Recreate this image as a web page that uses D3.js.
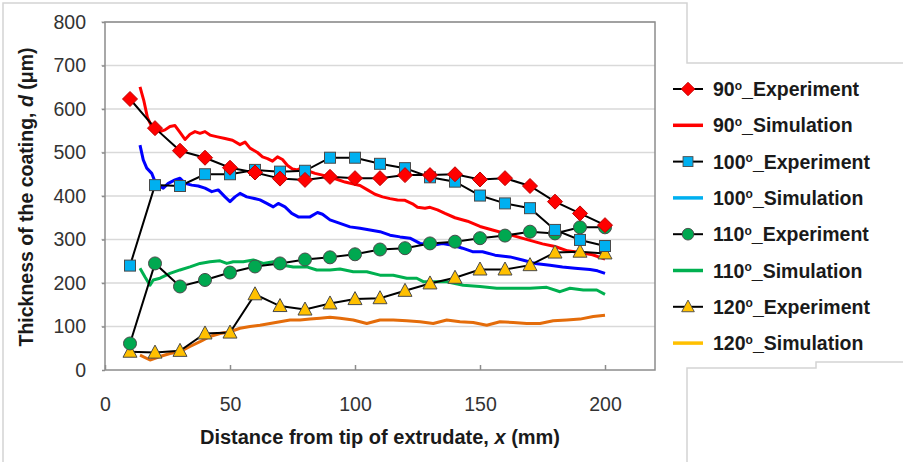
<!DOCTYPE html>
<html>
<head>
<meta charset="utf-8">
<script src="https://cdn.jsdelivr.net/npm/d3@7"></script>
<style>
  body { margin: 0; background: #fff; }
  svg { display: block; font-family: "Liberation Sans", Arial, sans-serif; }
</style>
</head>
<body>
<svg id="chart" width="903" height="462"></svg>
<script>
// experiment positions (mm)
var expX = [10, 20, 30, 40, 50, 60, 70, 80, 90, 100, 110, 120, 130, 140, 150, 160, 170, 180, 190, 200];

// experiment thickness (um)
var exp90  = [623, 556, 504, 488, 465, 454, 440, 437, 444, 441, 441, 448, 448, 450, 438, 441, 423, 387, 360, 333];
var exp100 = [240, 425, 423, 450, 450, 460, 456, 458, 488, 488, 474, 464, 443, 433, 401, 383, 372, 322, 299, 285];
var exp110 = [61, 245, 192, 207, 224, 238, 245, 254, 259, 266, 277, 280, 291, 295, 303, 309, 318, 314, 328, 328];
var exp120 = [42, 40, 44, 84, 86, 174, 147, 139, 153, 163, 165, 182, 199, 212, 231, 231, 241, 270, 272, 268];

// simulation curves, [x, thickness]
var sim90 = [[14,651],[15.5,620],[17,580],[18.5,562],[20,556],[22,548],[24,552],[26,560],[28,562],[30,546],
  [32,530],[34,542],[36,548],[38,544],[40,548],[42,540],[45,536],[48,532],[51,528],[54,518],[56,524],
  [58,510],[61,500],[63,490],[65,486],[67,480],[69,490],[71,484],[73,470],[75,462],[77,460],[79,466],
  [81,458],[84,452],[87,448],[90,444],[93,438],[96,432],[99,428],[102,424],[105,414],[108,404],[111,398],
  [114,394],[117,391],[120,390],[123,382],[125,374],[128,372],[130,374],[133,368],[136,360],[140,350],
  [145,342],[150,330],[155,322],[160,314],[165,306],[170,298],[175,290],[180,284],[185,274],[190,270],
  [195,265],[200,255]];
var sim100 = [[14,517],[15.3,483],[16.7,464],[18.7,452],[20,433],[21.3,425],[23.3,418],[25.3,429],[28,437],
  [30,441],[32,429],[34.7,425],[37.3,423],[40,418],[42.7,410],[45.3,414],[48,398],[50,387],[52,398],
  [54,406],[56.7,398],[59.3,395],[62,391],[64.7,383],[67.3,375],[69.3,383],[72,375],[74.7,360],[77.3,352],
  [80,352],[82,352],[85,362],[87,358],[90,345],[94,337],[98,329],[102,326],[106,322],[110,318],[114,310],
  [118,306],[122,303],[126,291],[131,287],[135,291],[139,287],[143,280],[147,272],[151,272],[156,264],
  [162,260],[167,253],[172,245],[178,241],[183,237],[188,234],[194,231],[197,228],[200,222]];
var sim110 = [[14,234],[16,214],[18,195],[19.3,207],[22,211],[26,222],[30,230],[34,237],[38,245],[42,249],
  [46,251],[48.7,245],[51.3,249],[55.3,249],[59.3,253],[63.3,245],[67.3,249],[71.3,241],[75.3,237],
  [80.7,237],[84.7,230],[90,230],[94,232],[99.3,226],[104.7,226],[110,218],[115.3,218],[120.7,211],
  [124.7,211],[127.3,203],[131.3,203],[136.7,203],[143.3,195],[150,192],[156.7,188],[163.3,188],[170,188],
  [176.7,190],[182,180],[186,188],[191.3,184],[196.7,184],[200,174]];
var sim120 = [[14,34],[18,23],[22,31],[26,38],[30,42],[34,54],[38,65],[42,77],[46,84],[50,88],[54,96],
  [58,100],[62,103],[66,107],[70,111],[74,115],[78,115],[82,117],[86,119],[90,121],[94,119],[99.3,115],
  [104.7,107],[110,115],[115.3,115],[120.7,113],[126,111],[131.3,107],[136.7,115],[142,111],[147.3,109],
  [152.7,103],[158,111],[163.3,109],[168.7,107],[174,107],[179.3,113],[184.7,115],[190,117],[195.3,123],
  [200,126]];

// axis ticks
var xTicks = [0, 50, 100, 150, 200];
var yTicks = [0, 100, 200, 300, 400, 500, 600, 700, 800];

// legend entries
var legendAngles = ["90", "90", "100", "100", "110", "110", "120", "120"];
var legendKinds = ["Experiment", "Simulation", "Experiment", "Simulation", "Experiment", "Simulation", "Experiment", "Simulation"];

var svg = d3.select("#chart");

var x = d3.scaleLinear().domain([0, 220]).range([105, 655]);
var y = d3.scaleLinear().domain([0, 800]).range([370, 22]);

/*
 * outer chart border, with the step made by the legend box
 */
function renderBorders(svg) {
    var border = "#d4d4d4";
    svg.append("path")
        .attr("d", "M3,470 L3,3 L687,3 L687,63 L910,63")
        .attr("fill", "none")
        .attr("stroke", border)
        .attr("stroke-width", 1.5);
    svg.append("path")
        .attr("d", "M687,470 L687,368 L816,368 L816,362 L910,362")
        .attr("fill", "none")
        .attr("stroke", border)
        .attr("stroke-width", 1.5);
}

/*
 * gridlines, plot frame and both axes
 */
function renderAxes(svg) {
    // horizontal gridlines
    svg.append("g")
        .selectAll("line")
        .data(yTicks.slice(1))
        .enter().append("line")
        .attr("x1", x(0) - 4)
        .attr("x2", x(220))
        .attr("y1", function(d) { return y(d); })
        .attr("y2", function(d) { return y(d); })
        .style("stroke", "#d9d9d9")
        .style("stroke-width", 1.5);

    // plot frame
    svg.append("rect")
        .attr("x", x(0))
        .attr("y", y(800))
        .attr("width", x(220) - x(0))
        .attr("height", y(0) - y(800))
        .attr("fill", "none")
        .style("stroke", "#8c8c8c")
        .style("stroke-width", 1.5);

    // x axis: ticks pointing inward, labels below
    var xAxis = d3.axisBottom(x)
        .tickValues(xTicks)
        .tickSize(-5)
        .tickPadding(27);
    var gx = svg.append("g")
        .attr("transform", "translate(0," + y(0) + ")")
        .call(xAxis);
    gx.select(".domain").remove();
    gx.selectAll("line").style("stroke", "#8c8c8c").style("stroke-width", 1.5);
    gx.selectAll("text")
        .attr("font-size", 19.5)
        .attr("font-family", "Liberation Sans, Arial, sans-serif")
        .attr("fill", "#333");

    // y axis labels
    var yAxis = d3.axisLeft(y)
        .tickValues(yTicks)
        .tickSize(3)
        .tickPadding(16);
    var gy = svg.append("g")
        .attr("transform", "translate(" + x(0) + ",0)")
        .call(yAxis);
    gy.select(".domain").remove();
    gy.selectAll("line").style("stroke", "#8c8c8c").style("stroke-width", 1.5);
    gy.selectAll("text")
        .attr("font-size", 19.5)
        .attr("font-family", "Liberation Sans, Arial, sans-serif")
        .attr("fill", "#333");

    // axis titles
    var xt = svg.append("text")
        .attr("x", 380)
        .attr("y", 444)
        .attr("text-anchor", "middle")
        .attr("font-size", 20)
        .attr("font-weight", "bold")
        .attr("fill", "#1a1a1a");
    xt.append("tspan").text("Distance from tip of extrudate, ");
    xt.append("tspan").attr("font-style", "italic").text("x");
    xt.append("tspan").text(" (mm)");

    var yt = svg.append("text")
        .attr("transform", "translate(33,197) rotate(-90)")
        .attr("text-anchor", "middle")
        .attr("font-size", 19.5)
        .attr("font-weight", "bold")
        .attr("fill", "#1a1a1a");
    yt.append("tspan").text("Thickness of the coating, ");
    yt.append("tspan").attr("font-style", "italic").text("d");
    yt.append("tspan").text(" (\u03bcm)");
}

/*
 * draws one marker symbol at the origin of g
 */
function drawMarker(g, shape, fill) {
    if (shape === "diamond") {
        g.append("path").attr("d", "M0,-7.5 L7.5,0 L0,7.5 L-7.5,0 Z");
    } else if (shape === "square") {
        g.append("rect").attr("x", -5.5).attr("y", -5.5).attr("width", 11).attr("height", 11);
    } else if (shape === "circle") {
        g.append("circle").attr("r", 6.5);
    } else {
        g.append("path").attr("d", "M0,-7.5 L7,5.5 L-7,5.5 Z");
    }
    g.selectAll("*")
        .attr("fill", fill)
        .attr("stroke", shape === "diamond" ? "#c00000" : "#4a4a4a")
        .attr("stroke-width", 1);
}

var simLine = d3.line()
    .x(function(d) { return x(d[0]); })
    .y(function(d) { return y(d[1]); });

function renderSim(svg, data, color) {
    svg.append("path")
        .datum(data)
        .attr("d", simLine)
        .attr("fill", "none")
        .attr("stroke", color)
        .attr("stroke-width", 3)
        .attr("stroke-linejoin", "round");
}

function renderExp(svg, values, shape, fill) {
    var pts = values.map(function(v, i) { return [expX[i], v]; });
    svg.append("path")
        .datum(pts)
        .attr("d", simLine)
        .attr("fill", "none")
        .attr("stroke", "#000")
        .attr("stroke-width", 2);
    svg.append("g")
        .selectAll("g")
        .data(pts)
        .enter().append("g")
        .attr("transform", function(d) { return "translate(" + x(d[0]) + "," + y(d[1]) + ")"; })
        .each(function() { drawMarker(d3.select(this), shape, fill); });
}

/*
 * legend box on the right
 */
function renderLegend(svg) {
    var shapes = ["diamond", null, "square", null, "circle", null, "triangle", null];
    var fills = ["#ff0000", "#ff0000", "#00b0f0", "#00b0f0", "#00a850", "#00b050", "#ffc000", "#ffc000"];

    svg.append("rect")
        .attr("x", 658)
        .attr("y", 64)
        .attr("width", 245)
        .attr("height", 297)
        .attr("fill", "#fff");

    var item = svg.append("g")
        .selectAll("g")
        .data(legendAngles)
        .enter().append("g")
        .attr("transform", function(d, i) { return "translate(688," + (89 + i * 36.3) + ")"; });

    item.each(function(d, i) {
        var g = d3.select(this);
        if (shapes[i]) {
            g.append("line").attr("x1", -15).attr("x2", 15)
                .attr("stroke", "#000").attr("stroke-width", 2);
            drawMarker(g.append("g").attr("transform", "scale(0.9)"), shapes[i], fills[i]);
        } else {
            g.append("line").attr("x1", -15).attr("x2", 15)
                .attr("stroke", fills[i]).attr("stroke-width", 3.5);
        }
        var t = g.append("text")
            .attr("x", 25)
            .attr("y", 7)
            .attr("font-size", 19.5)
            .attr("font-weight", "bold")
            .attr("fill", "#1a1a1a");
        t.append("tspan").text(d);
        t.append("tspan").attr("font-size", 12).attr("dy", -6.5).text("o");
        t.append("tspan").attr("dy", 6.5).text("_" + legendKinds[i]);
    });
}

renderBorders(svg);
renderAxes(svg);

renderSim(svg, sim120, "#e46c0a");
renderSim(svg, sim110, "#00b050");
renderSim(svg, sim100, "#0000ff");
renderSim(svg, sim90, "#ff0000");

renderExp(svg, exp120, "triangle", "#ffc000");
renderExp(svg, exp110, "circle", "#00a850");
renderExp(svg, exp100, "square", "#00b0f0");
renderExp(svg, exp90, "diamond", "#ff0000");

renderLegend(svg);
</script>
</body>
</html>
